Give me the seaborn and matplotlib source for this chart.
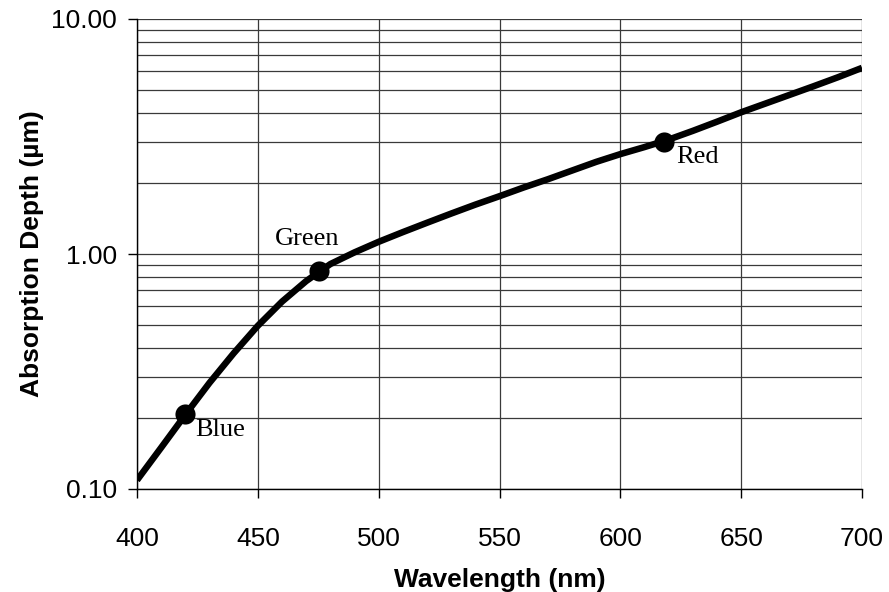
import numpy as np
import pandas as pd
import matplotlib
matplotlib.use("Agg")
import matplotlib.pyplot as plt
import matplotlib.ticker as mticker
import seaborn as sns

# Data
wavelength_nm = [400, 410, 420, 430, 440, 450, 460, 470, 480, 490, 500, 510, 520, 530,
                 540, 550, 560, 570, 580, 590, 600, 610, 620, 630, 640, 650, 660, 670, 680,
                 690, 700]
depth_um = [0.109, 0.150, 0.207, 0.283, 0.378, 0.495, 0.627, 0.767, 0.906, 1.016, 1.127,
            1.239, 1.358, 1.486, 1.622, 1.762, 1.919, 2.080, 2.265, 2.466, 2.661, 2.851,
            3.069, 3.342, 3.656, 4.009, 4.365, 4.753, 5.176, 5.649, 6.194]

point_names = ["Blue", "Green", "Red"]
point_nm = [420, 475.5, 618]
point_um = [0.209, 0.85, 3.0]

x_ticks = [400, 450, 500, 550, 600, 650, 700]
y_ticks = [0.1, 1.0, 10.0]

curve = pd.DataFrame({"wavelength": wavelength_nm, "depth": depth_um})
points = pd.DataFrame({"name": point_names, "wavelength": point_nm, "depth": point_um})

sns.set_style("white")
plt.rcParams["font.family"] = ["Liberation Sans", "DejaVu Sans"]

fig = plt.figure(figsize=(8.89, 5.92), dpi=100)
ax = fig.add_axes([137 / 889, 1 - 489 / 592, (862 - 137) / 889, (489 - 19) / 592])

ax.set_yscale("log")
ax.set_xlim(400, 700)
ax.set_ylim(0.1, 10)

# grid
ax.set_xticks(x_ticks)
ax.yaxis.set_major_locator(mticker.FixedLocator(y_ticks))
ax.yaxis.set_minor_locator(mticker.LogLocator(base=10, subs=np.arange(2, 10)))
ax.yaxis.set_major_formatter(mticker.FormatStrFormatter("%.2f"))
ax.yaxis.set_minor_formatter(mticker.NullFormatter())
ax.grid(True, which="major", axis="both", color="#3a3a3a", linewidth=0.9)
ax.grid(True, which="minor", axis="y", color="#3a3a3a", linewidth=0.9)
ax.set_axisbelow(True)

sns.lineplot(data=curve, x="wavelength", y="depth", ax=ax, color="black",
             linewidth=4.7, solid_capstyle="butt", solid_joinstyle="round", zorder=3)
sns.scatterplot(data=points, x="wavelength", y="depth", ax=ax, color="black",
                s=210, edgecolor="black", linewidth=0, zorder=4)

offsets = {"Blue": ((7, -12), "left"), "Green": ((-9, 23), "center"), "Red": ((9, -11), "left")}
for name, xv, yv in zip(point_names, point_nm, point_um):
    off, ha = offsets[name]
    ax.annotate(name, (xv, yv), xytext=off, textcoords="offset points", color="black",
                ha=ha, va="center", fontsize=19, family=["Liberation Serif", "DejaVu Serif"])

for side in ["top", "right"]:
    ax.spines[side].set_visible(False)
for side in ["left", "bottom"]:
    ax.spines[side].set_color("black")
    ax.spines[side].set_linewidth(1.0)

ax.tick_params(axis="both", which="major", direction="out", length=6.5, width=1,
               color="black", labelsize=19, labelcolor="black", left=True, bottom=True)
ax.tick_params(axis="y", which="major", pad=8)
ax.tick_params(axis="x", which="major", pad=21)
ax.tick_params(axis="y", which="minor", left=False, length=0)

ax.set_xlabel("Wavelength (nm)", fontsize=19, fontweight="bold", labelpad=12, color="black")
ax.set_ylabel("Absorption Depth (µm)", fontsize=19, fontweight="bold", labelpad=5, color="black")

fig.savefig("out.png", dpi=100, facecolor="white")
